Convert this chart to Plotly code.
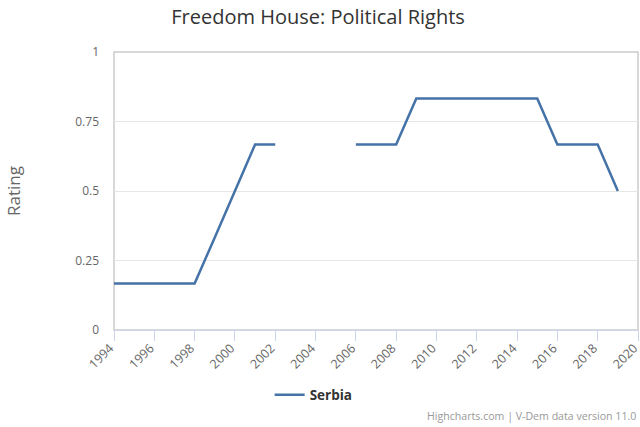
import plotly.graph_objects as go

years = list(range(1994, 2020))
serbia = [0.167, 0.167, 0.167, 0.167, 0.167, 0.333, 0.5, 0.667, 0.667,
          None, None, None,
          0.667, 0.667, 0.667, 0.833, 0.833, 0.833, 0.833, 0.833, 0.833, 0.833,
          0.667, 0.667, 0.667, 0.5]
x_ticks = list(range(1994, 2021, 2))
y_ticks = [0, 0.25, 0.5, 0.75, 1]
y_labels = ["0", "0.25", "0.5", "0.75", "1"]

FONT = "Open Sans"

fig = go.Figure()
fig.add_trace(go.Scatter(
    x=years, y=serbia, mode="lines", name="<b>Serbia</b>",
    line=dict(color="#4572A7", width=2.5), connectgaps=False,
))

fig.update_layout(
    width=640, height=427,
    margin=dict(l=114, r=2, t=52, b=97),
    paper_bgcolor="white", plot_bgcolor="white",
    font=dict(family=FONT, color="#666666"),
    title=dict(text="Freedom House: Political Rights", x=0.497, xanchor="center",
               y=0.96, yanchor="middle",
               font=dict(family=FONT, size=20, color="#333333")),
    showlegend=True,
    legend=dict(orientation="h", x=0.381, xanchor="center",
                y=-0.234, yanchor="middle",
                font=dict(family=FONT, size=13.5, color="#333333")),
    xaxis=dict(range=[1994, 2020], tickvals=x_ticks, tickangle=-45,
               ticks="outside", ticklen=10, tickcolor="#ccd6eb", tickwidth=1,
               showline=True, linecolor="#ccd6eb", linewidth=1,
               showgrid=False, zeroline=False, automargin=False,
               ticklabeloverflow="allow", ticklabelstandoff=-5, ticklabelshift=-4,
               tickfont=dict(family=FONT, size=12.5, color="#666666")),
    yaxis=dict(range=[0, 1], tickvals=y_ticks, ticktext=y_labels,
               showgrid=True, gridcolor="#e6e6e6", zeroline=False,
               ticks="", ticklabelstandoff=14, automargin=False,
               tickfont=dict(family=FONT, size=12, color="#666666"),
               title=dict(text="Rating", standoff=50,
                          font=dict(family=FONT, size=17, color="#666666"))),
    shapes=[dict(type="rect", xref="paper", yref="paper", x0=0, x1=1, y0=0, y1=1,
                 line=dict(color="#cccccc", width=1.5), layer="below")],
    annotations=[dict(text="Highcharts.com | V-Dem data version 11.0",
                      xref="paper", yref="paper", x=1.0, y=-0.31, xanchor="right",
                      yanchor="middle", showarrow=False,
                      font=dict(family=FONT, size=10.6, color="#999999"))],
)

fig.write_html("out.html", config={"displayModeBar": False},
               post_script="document.body.style.margin='0';")
